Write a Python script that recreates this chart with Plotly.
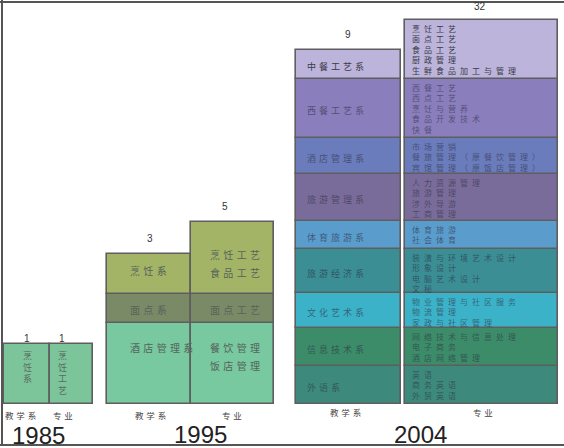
import numpy as np
import plotly.graph_objects as go

# ---------------- data (每列从下往上) ----------------
years = ['1985', '1995', '2004']
dept_counts = [1, 3, 9]
major_counts = [1, 5, 32]
col_titles = ['教学系', '专业']

depts_1985 = ['烹饪系']
dept_h_1985 = [60]
majors_1985 = [['烹饪工艺']]
major_h_1985 = [60]

depts_1995 = ['酒店管理系', '面点系', '烹饪系']
dept_h_1995 = [81, 29, 40]
majors_1995 = [['餐饮管理', '饭店管理'], ['面点工艺'], ['烹饪工艺', '食品工艺']]
major_h_1995 = [81, 29, 72]

depts_2004 = ['外语系', '信息技术系', '文化艺术系', '旅游经济系', '体育旅游系',
              '旅游管理系', '酒店管理系', '西餐工艺系', '中餐工艺系']
dept_h_2004 = [38, 38, 35, 44, 28, 47, 36, 59, 29]
majors_2004 = [
    ['英语', '商务英语', '外贸英语'],
    ['网络技术与信息处理', '电子商务', '酒店网络管理'],
    ['物业管理与社区服务', '物流管理', '家政与社区管理'],
    ['装潢与环境艺术设计', '形象设计', '电脑艺术设计', '文秘'],
    ['体育旅游', '社会体育'],
    ['人力资源管理', '旅游管理', '涉外导游', '工商管理'],
    ['市场营销', '餐旅管理（原餐饮管理）', '宾馆管理（原饭店管理）'],
    ['西餐工艺', '西点工艺', '烹饪与营养', '食品开发技术', '快餐'],
    ['烹饪工艺', '面点工艺', '食品工艺', '厨政管理', '生鲜食品加工与管理'],
]
major_h_2004 = [38, 38, 35, 44, 28, 47, 36, 59, 59]

# ---------------- styles ----------------
c_1985 = ['#7cc59a']
c_1995 = ['#78c8a0', '#7b8a66', '#a3b467']
c_2004 = ['#3d8a7c', '#3c8c6a', '#3cb2c8', '#3a8e94', '#5a9ccc',
          '#7a6c9a', '#6a7cbc', '#8a7ebc', '#bcb4da']
edge = '#5e5e5e'
cjk = 'Noto Sans CJK SC'

def spaced(s, sp='\u2004'):
    return sp.join(s)

fig = go.Figure()
ann = []

def add_col(x0, x1, heights, colors):
    h = np.array(heights, dtype=float)
    tops = np.cumsum(h)
    fig.add_trace(go.Bar(
        x=[(x0 + x1) / 2] * len(h), y=h, base=tops - h, width=[x1 - x0] * len(h),
        marker=dict(color=colors, line=dict(color=edge, width=1.6)),
        hoverinfo='skip', showlegend=False))
    return tops

def text(x, y, s, size=9, color='#4a4a5c', anchor='left', yanchor='middle', family=cjk):
    ann.append(dict(x=x, y=y, text=s, showarrow=False, xanchor=anchor, yanchor=yanchor,
                    align=anchor if anchor != 'center' else 'center',
                    font=dict(family=family, size=size, color=color)))

# 1985 竖排
t = add_col(4, 50, dept_h_1985, c_1985)
text(27, t[0] - 3, '<br>'.join(depts_1985[0]), size=9, color='#5a6a62', anchor='center', yanchor='top')
text(27, t[0] + 6, str(dept_counts[0]), size=10, color='#333', anchor='center', family='Liberation Sans')
t = add_col(50, 93, major_h_1985, c_1985)
text(62, t[0] - 3, '<br>'.join(majors_1985[0][0]), size=9, color='#5a6a62', anchor='center', yanchor='top')
text(62, t[0] + 6, str(major_counts[0]), size=10, color='#333', anchor='center', family='Liberation Sans')

# 1995
dy_dept = [24, 15, 16]
dy_major = [24, 15, 32]
t = add_col(107, 191, dept_h_1995, c_1995)
for k, name in enumerate(depts_1995):
    text(128, t[k] - dy_dept[k], spaced(name), size=10, color='#56645a')
text(150, t[-1] + 16, str(dept_counts[1]), size=10, color='#333', anchor='center', family='Liberation Sans')
t = add_col(191, 274, major_h_1995, c_1995)
for k, lines in enumerate(majors_1995):
    for i, s in enumerate(lines):
        text(208, t[k] - dy_major[k] - i * 18.5, spaced(s), size=10, color='#56645a')
text(225, t[-1] + 16, str(major_counts[1]), size=10, color='#333', anchor='center', family='Liberation Sans')

# 2004
t = add_col(296, 401, dept_h_2004, c_2004)
h = np.array(dept_h_2004)
for k, name in enumerate(depts_2004):
    col = '#3a3a48' if k == len(depts_2004) - 1 else 'rgba(45,45,65,0.6)'
    text(305, t[k] - h[k] / 2 - 2, spaced(name), size=9, color=col)
text(348, t[-1] + 16, str(dept_counts[2]), size=10, color='#333', anchor='center', family='Liberation Sans')
t = add_col(405, 558, major_h_2004, c_2004)
for k, lines in enumerate(majors_2004):
    col = '#3a3a48' if k == len(majors_2004) - 1 else 'rgba(45,45,65,0.6)'
    block = '<br>'.join(spaced(s, '\u2002') for s in lines)
    text(410, t[k] - 1, block, size=8, color=col, yanchor='top')
text(480, t[-1] + 14, str(major_counts[2]), size=10, color='#333', anchor='center', family='Liberation Sans')

# column titles and years
for xc, s in [(20, 0), (63, 1), (150, 0), (232, 1)]:
    text(xc, -11, spaced(col_titles[s]), size=8.5, color='#444', anchor='center')
for xc, s in [(345, 0), (483, 1)]:
    text(xc, -8, spaced(col_titles[s]), size=8.5, color='#444', anchor='center')
for xc, yy, s in zip([38, 200, 420], [-31, -30, -30], years):
    text(xc, yy, s, size=24, color='#222', anchor='center', family='Liberation Sans')

fig.update_layout(
    width=564, height=448, autosize=False,
    margin=dict(l=0, r=0, t=0, b=0),
    paper_bgcolor='white', plot_bgcolor='white',
    barmode='overlay', bargap=0,
    xaxis=dict(range=[0, 564], visible=False, fixedrange=True),
    yaxis=dict(range=[-44, 404], visible=False, fixedrange=True),
    annotations=ann,
    shapes=[
        dict(type='line', x0=0, x1=564, y0=402, y1=402, line=dict(color='#555', width=2)),
        dict(type='line', x0=2, x1=2, y0=404, y1=-41, line=dict(color='#555', width=2)),
        dict(type='line', x0=0, x1=564, y0=-41, y1=-41, line=dict(color='#555', width=2)),
    ],
)

fig.write_html('out.html', config={'displayModeBar': False},
               post_script="document.body.style.margin='0px';")
